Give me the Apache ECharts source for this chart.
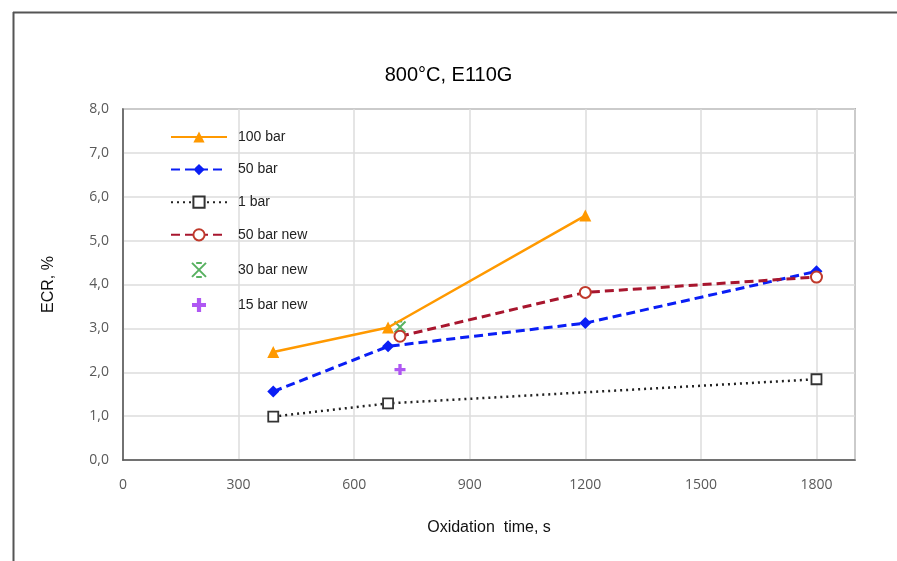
<!DOCTYPE html>
<html>
<head>
<meta charset="utf-8">
<script src="https://cdn.jsdelivr.net/npm/echarts@6/dist/echarts.min.js"></script>
<style>html,body{margin:0;padding:0;background:#fff}#c{width:897px;height:561px}</style>
</head>
<body>
<div id="c"></div>
<script>
const titleText = '800°C, E110G';
const xName = 'Oxidation  time, s';
const yName = 'ECR, %';
const bar100 = [[390, 2.46], [688, 3.02], [1200, 5.57]];
const bar50 = [[390, 1.56], [688, 2.59], [1200, 3.12], [1800, 4.3]];
const bar1 = [[390, 0.99], [688, 1.29], [1800, 1.84]];
const bar50new = [[719, 2.82], [1200, 3.82], [1800, 4.17]];
const bar30new = [[719, 3.03]];
const bar15new = [[719, 2.06]];

const chart = echarts.init(document.getElementById('c'));
const lblFont = {color: '#595959', fontSize: 14, fontFamily: 'Open Sans'};
chart.setOption({
  backgroundColor: '#fff',
  animation: false,
  title: {text: titleText, left: 'center', top: 60, textStyle: {fontFamily: 'Liberation Sans', fontSize: 20, fontWeight: 'normal', color: '#000'}},
  grid: {left: 123, right: 42, top: 109, bottom: 101, show: true, borderColor: '#777', borderWidth: 1.5},
  legend: {
    orient: 'vertical', left: 165, top: 125, itemWidth: 56, itemHeight: 14, itemGap: 18.6,
    textStyle: {fontFamily: 'Liberation Sans', fontSize: 14, color: '#222', padding: [0, 0, 0, 6]},
    data: ['100 bar', '50 bar', '1 bar', '50 bar new', '30 bar new', '15 bar new']
  },
  xAxis: {
    type: 'value', min: 0, max: 1900, interval: 300,
    name: xName, nameLocation: 'middle', nameGap: 60,
    nameTextStyle: {fontFamily: 'Liberation Sans', fontSize: 16, color: '#111'},
    axisLine: {show: true, lineStyle: {color: '#555', width: 1.5}},
    axisTick: {show: false},
    axisLabel: Object.assign({margin: 18, showMaxLabel: false, formatter: v => String(v)}, lblFont),
    splitLine: {show: true, lineStyle: {color: '#dcdcdc', width: 1.5}}
  },
  yAxis: {
    type: 'value', min: 0, max: 8, interval: 1,
    name: yName, nameLocation: 'middle', nameGap: 66,
    nameTextStyle: {fontFamily: 'Liberation Sans', fontSize: 16, color: '#111'},
    axisLine: {show: true, lineStyle: {color: '#555', width: 1.5}},
    axisTick: {show: false},
    axisLabel: Object.assign({margin: 14, formatter: v => v.toFixed(1).replace('.', ',')}, lblFont),
    splitLine: {show: true, lineStyle: {color: '#dcdcdc', width: 1.5}}
  },
  graphic: [
    {type: 'line', shape: {x1: 13, y1: 12.5, x2: 897, y2: 12.5}, style: {stroke: '#555', lineWidth: 2}},
    {type: 'line', shape: {x1: 13.5, y1: 12, x2: 13.5, y2: 561}, style: {stroke: '#555', lineWidth: 2}}
  ],
  series: [
    {name: '100 bar', type: 'line', data: bar100, symbol: 'triangle', symbolSize: 12,
      lineStyle: {color: '#FF9900', width: 2.5}, itemStyle: {color: '#FF9900'}},
    {name: '50 bar', type: 'line', data: bar50, symbol: 'diamond', symbolSize: 12,
      lineStyle: {color: '#0A1EF5', width: 3, type: [9, 5]}, itemStyle: {color: '#0A1EF5'}},
    {name: '1 bar', type: 'line', data: bar1, symbol: 'rect', symbolSize: 10,
      lineStyle: {color: '#222', width: 2.5, type: [2, 4]}, itemStyle: {color: '#fff', borderColor: '#333', borderWidth: 1.8}},
    {name: '50 bar new', type: 'line', data: bar50new, symbol: 'emptyCircle', symbolSize: 11,
      lineStyle: {color: '#A8162E', width: 3, type: [9, 5]}, itemStyle: {color: '#C0392B', borderColor: '#C0392B', borderWidth: 1.5}},
    {name: '30 bar new', type: 'scatter', data: bar30new, symbol: 'path://M0,0L10,10M10,0L0,10M3,0L7,0M3,10L7,10', symbolSize: 11,
      itemStyle: {color: 'none', borderColor: '#2E9E3A', borderWidth: 2}},
    {name: '15 bar new', type: 'scatter', data: bar15new, symbol: 'path://M3.5,0L6.5,0L6.5,3.5L10,3.5L10,6.5L6.5,6.5L6.5,10L3.5,10L3.5,6.5L0,6.5L0,3.5L3.5,3.5Z', symbolSize: 11,
      itemStyle: {color: '#9B2DF0'}}
  ]
});
</script>
</body>
</html>
